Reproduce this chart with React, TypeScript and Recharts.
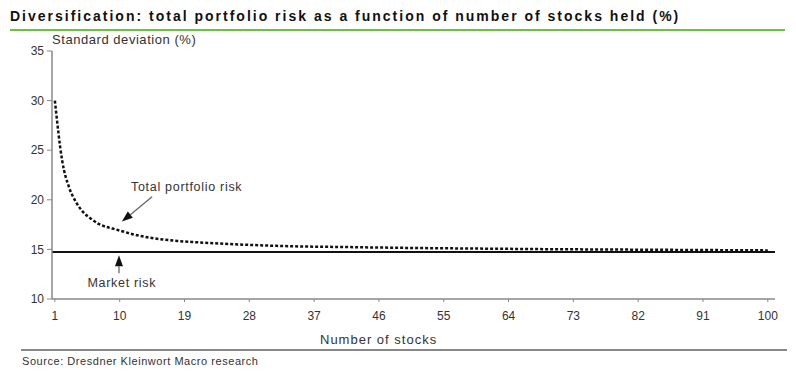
import {
  LineChart,
  Line,
  XAxis,
  YAxis,
  ReferenceLine,
  ReferenceDot,
} from "recharts";

const stocks = [1, 2, 3, 4, 5, 6, 7, 8, 9, 10, 12, 14, 16, 18, 20, 25, 30, 35, 40, 50, 60, 70, 80, 90, 100];
const totalRisk = [
  30, 24.0, 21.2, 19.7, 18.7, 18.1, 17.6, 17.3, 17.1, 16.9, 16.5, 16.2, 16.0, 15.85, 15.75,
  15.55, 15.4, 15.3, 15.25, 15.15, 15.08, 15.02, 14.98, 14.94, 14.9,
];
const marketRisk = 14.75;
const xTicks = [1, 10, 19, 28, 37, 46, 55, 64, 73, 82, 91, 100];
const yTicks = [10, 15, 20, 25, 30, 35];

const FONT = "'Liberation Sans', Arial, sans-serif";

const data = stocks.map((n, i) => ({ n, risk: totalRisk[i] }));

function Arrow(props: any) {
  const { x1, y1, x2, y2 } = props;
  const dx = x2 - x1;
  const dy = y2 - y1;
  const len = Math.sqrt(dx * dx + dy * dy) || 1;
  const ux = dx / len;
  const uy = dy / len;
  const hl = 11;
  const hw = 4;
  const bx = x2 - ux * hl;
  const by = y2 - uy * hl;
  const pts = `${x2},${y2} ${bx - uy * hw},${by + ux * hw} ${bx + uy * hw},${by - ux * hw}`;
  return (
    <g>
      <line x1={x1} y1={y1} x2={bx} y2={by} stroke="#666" strokeWidth={1.3} />
      <polygon points={pts} fill="#111" />
    </g>
  );
}

function Label(text: string) {
  return (p: any) => (
    <text
      x={p.cx}
      y={p.cy}
      textAnchor="middle"
      dominantBaseline="central"
      fontFamily={FONT}
      fontSize={12.5}
      letterSpacing={0.7}
      fill="#333"
    >
      {text}
    </text>
  );
}

export default function App() {
  return (
    <div
      style={{
        position: "absolute",
        left: 0,
        top: 0,
        width: 796,
        height: 375,
        background: "#fff",
        fontFamily: FONT,
        color: "#333",
      }}
    >
      <div
        style={{
          position: "absolute",
          left: 10,
          top: 8,
          fontSize: 14,
          fontWeight: "bold",
          letterSpacing: 2,
          color: "#111",
          whiteSpace: "nowrap",
        }}
      >
        Diversification: total portfolio risk as a function of number of stocks held (%)
      </div>
      <div
        style={{ position: "absolute", left: 10, top: 29, width: 775, height: 2, background: "#6cbf43" }}
      />
      <div
        style={{ position: "absolute", left: 52, top: 32, fontSize: 13, letterSpacing: 0.55, whiteSpace: "nowrap" }}
      >
        Standard deviation (%)
      </div>

      <div style={{ position: "absolute", left: 0, top: 0 }}>
        <LineChart
          width={796}
          height={375}
          data={data}
          margin={{ top: 51, right: 21, bottom: 46, left: 12 }}
        >
          <XAxis
            dataKey="n"
            type="number"
            domain={[0.6, 101]}
            ticks={xTicks}
            interval={0}
            height={30}
            tickSize={3}
            tickMargin={9}
            axisLine={{ stroke: "#888", strokeWidth: 1.5 }}
            tickLine={{ stroke: "#888" }}
            tick={{ fill: "#333", fontSize: 12, fontFamily: FONT }}
          />
          <YAxis
            type="number"
            domain={[10, 35]}
            ticks={yTicks}
            interval={0}
            width={40}
            tickSize={5}
            tickMargin={3}
            axisLine={{ stroke: "#888", strokeWidth: 1.5 }}
            tickLine={{ stroke: "#888" }}
            tick={{ fill: "#333", fontSize: 12, fontFamily: FONT }}
          />
          <ReferenceLine y={marketRisk} stroke="#111" strokeWidth={2} />
          <Line
            type="monotone"
            dataKey="risk"
            stroke="#111"
            strokeWidth={2.5}
            strokeDasharray="3 2"
            dot={false}
            isAnimationActive={false}
          />
          <ReferenceLine
            segment={[
              { x: 14.5, y: 20.3 },
              { x: 10.3, y: 17.8 },
            ]}
            shape={Arrow}
          />
          <ReferenceLine
            segment={[
              { x: 9.9, y: 12.6 },
              { x: 9.9, y: 14.4 },
            ]}
            shape={Arrow}
          />
          <ReferenceDot x={19.3} y={21.3} r={0} shape={Label("Total portfolio risk")} />
          <ReferenceDot x={10.3} y={11.6} r={0} shape={Label("Market risk")} />
        </LineChart>
      </div>

      <div
        style={{ position: "absolute", left: 320, top: 332, fontSize: 13, letterSpacing: 1, whiteSpace: "nowrap" }}
      >
        Number of stocks
      </div>
      <div
        style={{ position: "absolute", left: 21, top: 349, width: 766, height: 1.5, background: "#888" }}
      />
      <div
        style={{ position: "absolute", left: 22, top: 355, fontSize: 11, letterSpacing: 0.55, whiteSpace: "nowrap" }}
      >
        Source: Dresdner Kleinwort Macro research
      </div>
    </div>
  );
}
